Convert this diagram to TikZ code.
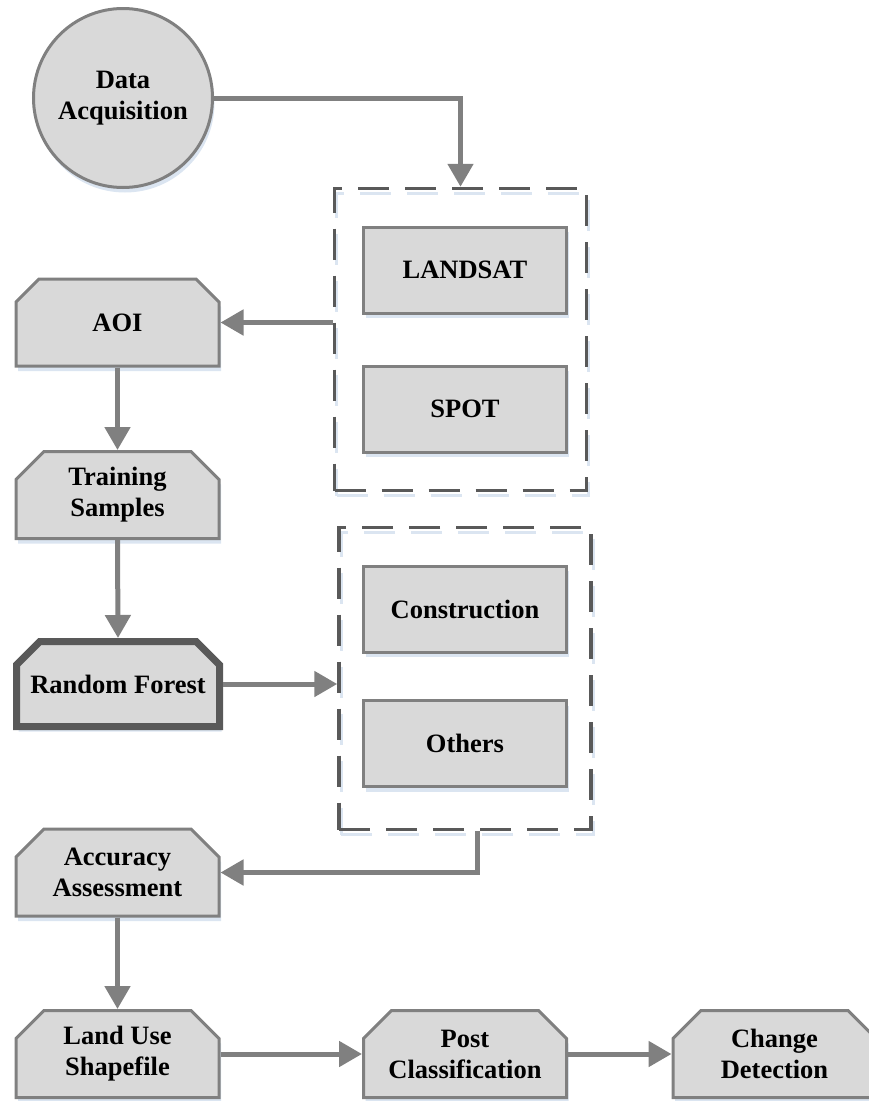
\documentclass[tikz,border=0pt]{standalone}
\usepackage{fontspec}
\setmainfont{Liberation Serif}
\usetikzlibrary{arrows.meta}
\usetikzlibrary{shapes.misc,shadows}
\definecolor{boxfill}{HTML}{D9D9D9}
\definecolor{boxline}{HTML}{808080}
\definecolor{darkline}{HTML}{595959}
\definecolor{shadowblue}{HTML}{DBE5F1}

\begin{document}
\begin{tikzpicture}[x=1pt, y=-1pt,
  every node/.style={font=\fontsize{26.5}{31}\selectfont\bfseries, align=center, text=black, inner sep=0pt},
  blueshadow/.style={general shadow={fill=shadowblue, shadow xshift=2pt, shadow yshift=-5pt}},
  stage/.style={chamfered rectangle, chamfered rectangle corners={north west,north east},
    chamfered rectangle xsep=14pt, chamfered rectangle ysep=14pt,
    draw=boxline, line width=3pt, fill=boxfill, minimum width=203pt, minimum height=87pt, blueshadow},
  sensor/.style={rectangle, draw=boxline, line width=3pt, fill=boxfill, minimum width=203pt, minimum height=86pt, blueshadow},
  group/.style={rectangle, draw=darkline, line width=3.5pt, dash pattern=on 31pt off 16pt, minimum width=252pt, minimum height=302pt,
    general shadow={draw=shadowblue, line width=3pt, dash pattern=on 31pt off 16pt, shadow xshift=2pt, shadow yshift=-5pt}},
  arr/.style={draw=boxline, line width=5pt, -{Triangle[length=23pt,width=25pt]}}]
  \useasboundingbox (0,0) rectangle (869,1101);

  \node[circle, draw=boxline, line width=3pt, fill=boxfill, minimum size=179pt, blueshadow] (acq) at (123,98) {Data\\Acquisition};

  \node[group] (sat) at (460.5,339.5) {};
  \node[sensor] (landsat) at (465,270) {LANDSAT};
  \node[sensor] (spot) at (465,409) {SPOT};

  \node[group] (cls) at (465,678.5) {};
  \node[sensor] (constr) at (465,609) {Construction};
  \node[sensor] (others) at (465,743.5) {Others};

  \node[stage] (aoi) at (117.5,322.5) {AOI};
  \node[stage] (train) at (117.5,495) {Training\\Samples};
  \node[stage, draw=darkline, line width=7pt, minimum width=203pt, minimum height=85pt] (rf) at (118,684) {Random Forest};
  \node[stage] (acc) at (117.5,872.5) {Accuracy\\Assessment};
  \node[stage] (land) at (117.5,1054) {Land Use\\Shapefile};
  \node[stage] (post) at (465,1054) {Post\\Classification};
  \node[stage] (change) at (774.5,1054) {Change\\Detection};

  \draw[arr] (acq.east) -| (sat.north);
  \draw[arr] (sat.west |- aoi.east) -- (aoi.east);
  \draw[arr] (aoi.south) -- (train.north);
  \draw[arr] (train.south) -- (rf.north);
  \draw[arr] (rf.east) -- (rf.east -| cls.west);
  \draw[arr] ([xshift=12pt]cls.south) |- (acc.east);
  \draw[arr] (acc.south) -- (land.north);
  \draw[arr] (land.east) -- (post.west);
  \draw[arr] (post.east) -- (change.west);
\end{tikzpicture}
\end{document}
